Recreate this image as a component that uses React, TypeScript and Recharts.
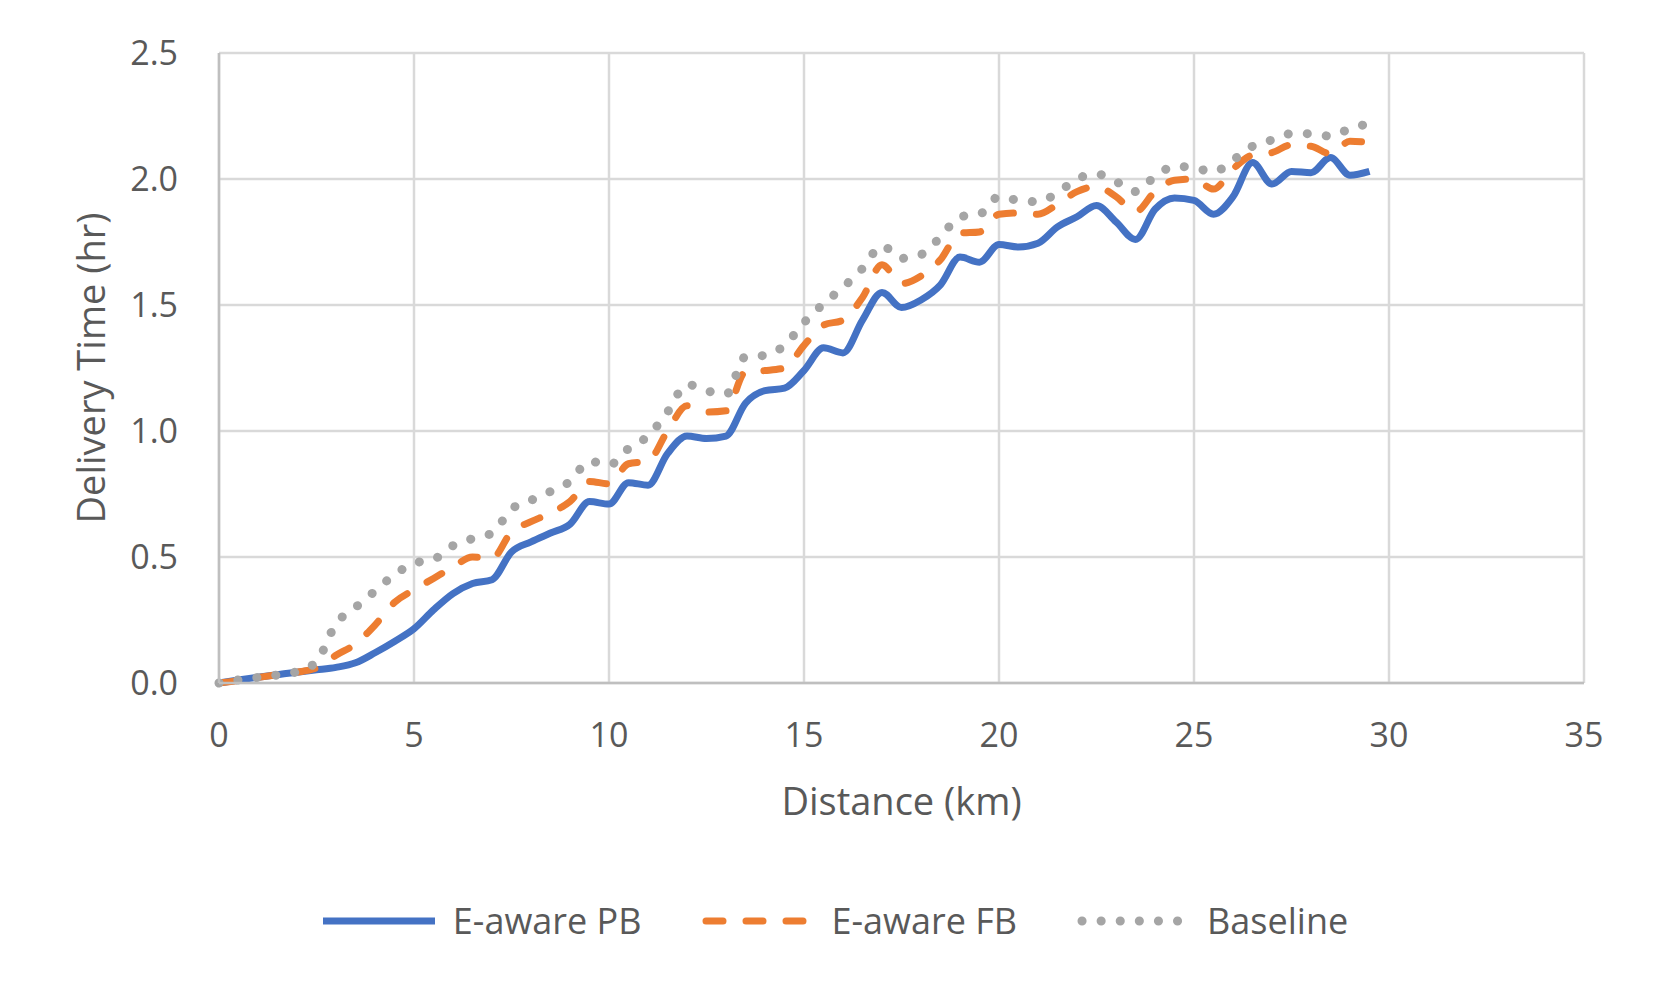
import React from "react";
import {
  LineChart,
  Line,
  XAxis,
  YAxis,
  CartesianGrid,
  Legend,
} from "recharts";

const distanceKm = [
  0, 0.5, 1, 1.5, 2, 2.5, 3, 3.5, 4, 4.5, 5, 5.5, 6, 6.5, 7, 7.5, 8, 8.5, 9, 9.5,
  10, 10.5, 11, 11.5, 12, 12.5, 13, 13.5, 14, 14.5, 15, 15.5, 16, 16.5, 17, 17.5,
  18, 18.5, 19, 19.5, 20, 20.5, 21, 21.5, 22, 22.5, 23, 23.5, 24, 24.5, 25, 25.5,
  26, 26.5, 27, 27.5, 28, 28.5, 29, 29.5,
];

const eAwarePB = [
  0, 0.012, 0.023, 0.033, 0.043, 0.052, 0.062, 0.08, 0.12, 0.165, 0.215, 0.29,
  0.355, 0.395, 0.41, 0.52, 0.56, 0.595, 0.63, 0.72, 0.71, 0.795, 0.785, 0.91,
  0.98, 0.97, 0.98, 1.11, 1.16, 1.17, 1.24, 1.33, 1.31, 1.44, 1.55, 1.49, 1.52,
  1.58, 1.69, 1.67, 1.74, 1.73, 1.745, 1.81, 1.85, 1.895, 1.83, 1.76, 1.88,
  1.925, 1.915, 1.86, 1.93, 2.065, 1.98, 2.03, 2.025, 2.085, 2.015, 2.03,
];

const eAwareFB = [
  0, 0.01, 0.022, 0.033, 0.043, 0.06, 0.11, 0.155, 0.23, 0.32, 0.37, 0.415,
  0.46, 0.5, 0.495, 0.6, 0.64, 0.675, 0.72, 0.8, 0.79, 0.87, 0.88, 1.0, 1.1,
  1.075, 1.08, 1.235, 1.24, 1.25, 1.34, 1.42, 1.44, 1.53, 1.66, 1.585, 1.615,
  1.68, 1.785, 1.79, 1.86, 1.865, 1.86, 1.9, 1.95, 1.97, 1.93, 1.87, 1.95, 1.995,
  2.0, 1.96, 2.04, 2.095, 2.105, 2.135, 2.13, 2.1, 2.15, 2.145,
];

const baseline = [
  0, 0.012, 0.022, 0.032, 0.045, 0.085, 0.235, 0.3, 0.365, 0.43, 0.475, 0.49,
  0.545, 0.573, 0.595, 0.69, 0.725, 0.76, 0.8, 0.88, 0.865, 0.93, 0.98, 1.075,
  1.185, 1.16, 1.145, 1.295, 1.3, 1.34, 1.43, 1.505, 1.57, 1.645, 1.735, 1.685,
  1.7, 1.77, 1.85, 1.86, 1.93, 1.915, 1.91, 1.945, 2.0, 2.02, 1.99, 1.95, 2.01,
  2.05, 2.045, 2.028, 2.075, 2.13, 2.155, 2.18, 2.18, 2.17, 2.2, 2.22,
];

const seriesNames = ["E-aware PB", "E-aware FB", "Baseline"];
const xTicks = [0, 5, 10, 15, 20, 25, 30, 35];
const yTicks = [0, 0.5, 1, 1.5, 2, 2.5];

const data = distanceKm.map((d, i) => ({
  distance: d,
  pb: eAwarePB[i],
  fb: eAwareFB[i],
  base: baseline[i],
}));

const FONT = "'Open Sans', sans-serif";
const TEXT = "#595959";

const seriesStyle: Record<string, { stroke: string; dash?: string; width: number }> = {
  "E-aware PB": { stroke: "#4472C4", width: 7 },
  "E-aware FB": { stroke: "#ED7D31", dash: "17 23", width: 7 },
  Baseline: { stroke: "#A5A5A5", dash: "0.1 19", width: 9 },
};

function LegendContent() {
  return (
    <div
      style={{
        display: "flex",
        justifyContent: "center",
        alignItems: "center",
        paddingLeft: 8,
        fontFamily: FONT,
        fontSize: 36,
        color: TEXT,
      }}
    >
      {seriesNames.map((name, i) => {
        const s = seriesStyle[name];
        return (
          <div
            key={name}
            style={{ display: "flex", alignItems: "center", marginRight: i < 2 ? 60 : 0 }}
          >
            <svg width={117} height={14} style={{ marginRight: 13 }}>
              <line
                x1={s.dash ? 5 : 0}
                y1={7}
                x2={112}
                y2={7}
                stroke={s.stroke}
                strokeWidth={s.width}
                strokeDasharray={s.dash}
                strokeLinecap={s.dash ? "round" : "butt"}
              />
            </svg>
            <span>{name}</span>
          </div>
        );
      })}
    </div>
  );
}

function YTitle({ viewBox }: any) {
  const cx = 90;
  const cy = viewBox.y + viewBox.height / 2;
  return (
    <text
      x={cx}
      y={cy}
      transform={`rotate(-90 ${cx} ${cy})`}
      textAnchor="middle"
      dominantBaseline="central"
      fontFamily={FONT}
      fontSize={38}
      fill={TEXT}
    >
      Delivery Time (hr)
    </text>
  );
}

export default function App() {
  return (
    <div
      style={{
        position: "absolute",
        left: 0,
        top: 0,
        width: 1663,
        height: 999,
        background: "#fff",
      }}
    >
      <LineChart
        width={1663}
        height={999}
        data={data}
        margin={{ top: 53, right: 79, bottom: 78, left: 0 }}
      >
        <CartesianGrid stroke="#d9d9d9" strokeWidth={2.5} />
        <XAxis
          dataKey="distance"
          type="number"
          domain={[0, 35]}
          ticks={xTicks}
          height={238}
          tickSize={0}
          tickMargin={40}
          axisLine={{ stroke: "#bfbfbf", strokeWidth: 2.5 }}
          tick={{ fill: TEXT, fontSize: 34, fontFamily: FONT }}
          label={{
            value: "Distance (km)",
            position: "center",
            fill: TEXT,
            fontSize: 38,
            fontFamily: FONT,
          }}
        />
        <YAxis
          type="number"
          domain={[0, 2.5]}
          ticks={yTicks}
          width={219}
          tickSize={0}
          tickMargin={41}
          axisLine={{ stroke: "#bfbfbf", strokeWidth: 2.5 }}
          tickFormatter={(v: number) => v.toFixed(1)}
          tick={{ fill: TEXT, fontSize: 34, fontFamily: FONT }}
          label={{ content: YTitle }}
        />
        <Legend
          verticalAlign="middle"
          align="center"
          layout="horizontal"
          wrapperStyle={{ top: 896, left: 0, width: 1663 }}
          content={LegendContent}
        />
        <Line
          type="monotone"
          dataKey="pb"
          name="E-aware PB"
          stroke="#4472C4"
          strokeWidth={7}
          dot={false}
          isAnimationActive={false}
        />
        <Line
          type="monotone"
          dataKey="fb"
          name="E-aware FB"
          stroke="#ED7D31"
          strokeWidth={7}
          strokeDasharray="17 23"
          strokeLinecap="round"
          dot={false}
          isAnimationActive={false}
        />
        <Line
          type="monotone"
          dataKey="base"
          name="Baseline"
          stroke="#A5A5A5"
          strokeWidth={9}
          strokeDasharray="0.1 19"
          strokeLinecap="round"
          dot={false}
          isAnimationActive={false}
        />
      </LineChart>
    </div>
  );
}
